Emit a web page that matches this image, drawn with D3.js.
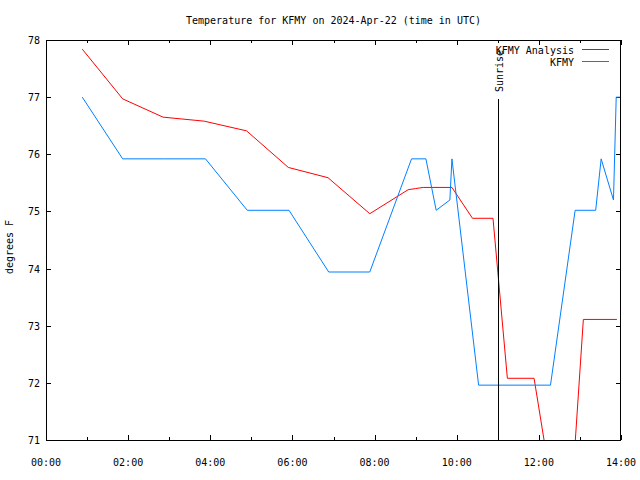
<!DOCTYPE html>
<html><head><meta charset="utf-8">
<script src="https://cdn.jsdelivr.net/npm/d3@7"></script>
<style>body{margin:0;background:#fff}svg{display:block}text{font-family:"DejaVu Sans Mono",monospace;font-size:10px;fill:#000}</style>
</head><body>
<script>
const titleText = "Temperature for KFMY on 2024-Apr-22 (time in UTC)";
const yLabel = "degrees F";
const seriesNames = ["KFMY Analysis", "KFMY"];
const seriesColors = ["#ff0000", "#0080ff"];
const xTickLabels = ["00:00","02:00","04:00","06:00","08:00","10:00","12:00","14:00"];
const yTickValues = [71,72,73,74,75,76,77,78];
const sunriseTime = "11:01";
const sunriseLabel = "Sunrise";

const analysisTimes = ["00:53","01:52","02:51","03:51","04:53","05:54","06:52","07:53","08:49","09:00","09:11","09:53","10:23","10:53","11:14","11:53","12:40","13:05","13:54"];
const analysisValues = [77.84,76.97,76.65,76.58,76.41,75.77,75.59,74.96,75.38,75.40,75.42,75.42,74.88,74.88,72.08,72.08,68.6,73.11,73.11];

const obsTimes = ["00:53","01:52","02:52","03:53","04:54","05:55","06:53","07:53","08:54","09:15","09:30","09:50","09:53","10:32","10:53","11:53","12:17","12:53","13:23","13:31","13:49","13:53","14:00"];
const obsValues = [77.0,75.92,75.92,75.92,75.02,75.02,73.94,73.94,75.92,75.92,75.02,75.2,75.92,71.96,71.96,71.96,71.96,75.02,75.02,75.92,75.2,77.0,77.0];

const W = 640, H = 480;
const L = 46, R = 621, T = 40, B = 440;
const toH = s => { const [h, m] = s.split(":").map(Number); return h + m / 60; };

const svg = d3.select("body").append("svg").attr("width", W).attr("height", H);
const x = d3.scaleLinear().domain([0, 14]).range([L, R]);
const y = d3.scaleLinear().domain([71, 78]).range([B, T]);

svg.append("defs").append("clipPath").attr("id", "clip")
  .append("rect").attr("x", L).attr("y", T).attr("width", R - L).attr("height", B - T);

// title
svg.append("text").attr("x", (L + R) / 2).attr("y", 24).attr("text-anchor", "middle").text(titleText);
// y label
svg.append("text").attr("transform", `translate(13,247) rotate(-90)`).attr("text-anchor", "middle").text(yLabel);

// ticks
const allHours = d3.range(0, 15);
const tickG = svg.append("g").attr("shape-rendering", "crispEdges").attr("stroke", "#000");
allHours.forEach(h => {
  const len = h % 2 === 0 ? 5 : 3;
  const xp = Math.round(x(h)) + 0.5;
  tickG.append("line").attr("x1", xp).attr("x2", xp).attr("y1", B).attr("y2", B - len);
  tickG.append("line").attr("x1", xp).attr("x2", xp).attr("y1", T).attr("y2", T + len);
});
yTickValues.forEach(v => {
  const yp = Math.round(y(v)) + 0.5;
  tickG.append("line").attr("x1", L).attr("x2", L + 5).attr("y1", yp).attr("y2", yp);
  tickG.append("line").attr("x1", R).attr("x2", R - 5).attr("y1", yp).attr("y2", yp);
});

// x tick labels
xTickLabels.forEach(s => {
  svg.append("text").attr("x", x(toH(s))).attr("y", 466).attr("text-anchor", "middle").text(s);
});
// y tick labels
yTickValues.forEach(v => {
  svg.append("text").attr("x", 40).attr("y", y(v) + 4).attr("text-anchor", "end").text(v);
});

// lines
const line = d3.line().x(d => x(d[0])).y(d => y(d[1]));
const analysis = analysisTimes.map((t, i) => [toH(t), analysisValues[i]]);
const obs = obsTimes.map((t, i) => [toH(t), obsValues[i]]);
const lg = svg.append("g").attr("clip-path", "url(#clip)");
lg.append("path").datum(analysis).attr("d", line).attr("fill", "none").attr("stroke", seriesColors[0]).attr("stroke-width", 1);
lg.append("path").datum(obs).attr("d", line).attr("fill", "none").attr("stroke", seriesColors[1]).attr("stroke-width", 1);

// sunrise
const sx = Math.round(x(toH(sunriseTime))) + 0.5;
svg.append("line").attr("x1", sx).attr("x2", sx).attr("y1", 99).attr("y2", B)
  .attr("stroke", "#000").attr("shape-rendering", "crispEdges");
svg.append("text").attr("transform", `translate(${sx + 4.5},92) rotate(-90)`).attr("text-anchor", "start").text(sunriseLabel);

// frame
svg.append("rect").attr("x", L + 0.5).attr("y", T + 0.5).attr("width", R - L - 1).attr("height", B - T)
  .attr("fill", "none").attr("stroke", "#000").attr("shape-rendering", "crispEdges");

// legend
seriesNames.forEach((n, i) => {
  const ly = 50 + i * 12;
  svg.append("text").attr("x", 574).attr("y", ly + 4).attr("text-anchor", "end").text(n);
  svg.append("line").attr("x1", 582).attr("x2", 609).attr("y1", ly - 0.5).attr("y2", ly - 0.5)
    .attr("stroke", seriesColors[i]).attr("shape-rendering", "crispEdges");
});
</script>
</body></html>
